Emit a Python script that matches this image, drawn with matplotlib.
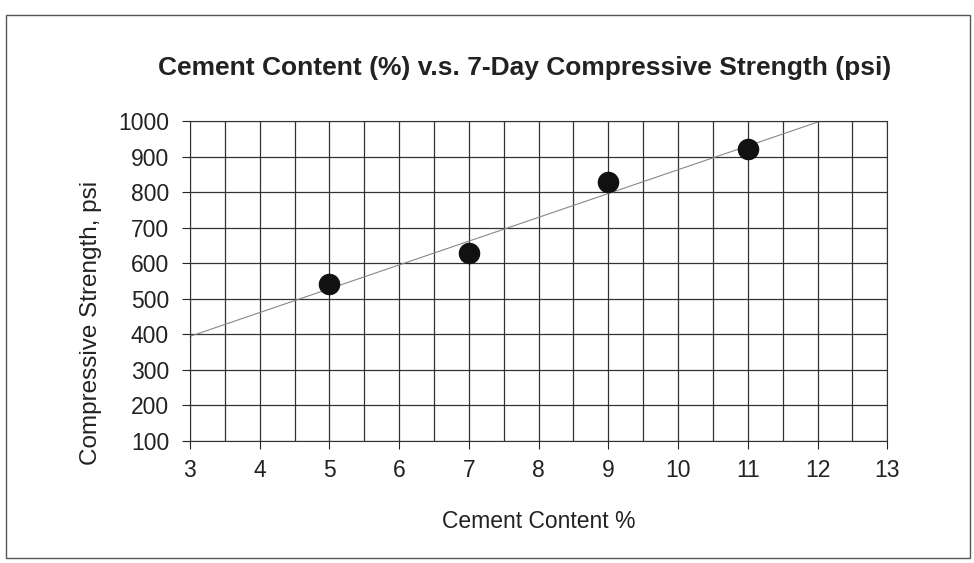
import numpy as np
import matplotlib.pyplot as plt
from matplotlib.patches import Rectangle

plt.rcParams['font.family'] = ['Liberation Sans', 'DejaVu Sans']

cement = [5, 7, 9, 11]
strength = [540, 628, 828, 920]

fig = plt.figure(figsize=(9.74, 5.63), dpi=100)
ax = fig.add_axes([0.195, 0.217, 0.716, 0.568])

# linear trend line, extended to x = 12
m, b = np.polyfit(cement, strength, 1)
xt = np.array([3, 12])
ax.plot(xt, m * xt + b, color='#888888', lw=0.8, zorder=2)
ax.plot(cement, strength, 'o', color='#111111', ms=14.5, zorder=3)

ax.set_xlim(3, 13)
ax.set_ylim(100, 1000)
ax.set_xticks(range(3, 14))
ax.set_yticks(range(100, 1001, 100))
ax.set_xticks(np.arange(3.5, 13, 1), minor=True)
ax.grid(which='both', color='#333333', lw=0.9)
ax.tick_params(which='minor', length=0)
ax.tick_params(which='major', length=6, direction='out', labelsize=16.5, colors='#222222')
ax.tick_params(axis='y', pad=9)
ax.tick_params(axis='x', pad=7)
for s in ax.spines.values():
    s.set_color('#333333')

ax.set_xlabel('Cement Content %', fontsize=16.5, labelpad=20, color='#222222')
ax.set_ylabel('Compressive Strength, psi', fontsize=17.5, color='#222222')
ax.yaxis.set_label_coords(-0.126, 0.37)
fig.text(0.539, 0.879, 'Cement Content (%) v.s. 7-Day Compressive Strength (psi)',
         ha='center', va='center', fontsize=19, fontweight='bold', color='#222222')

fig.patches.append(Rectangle((0.006, 0.008), 0.99, 0.965, transform=fig.transFigure,
                             fill=False, edgecolor='#555555', lw=1))

fig.savefig('out.png', dpi=100)
